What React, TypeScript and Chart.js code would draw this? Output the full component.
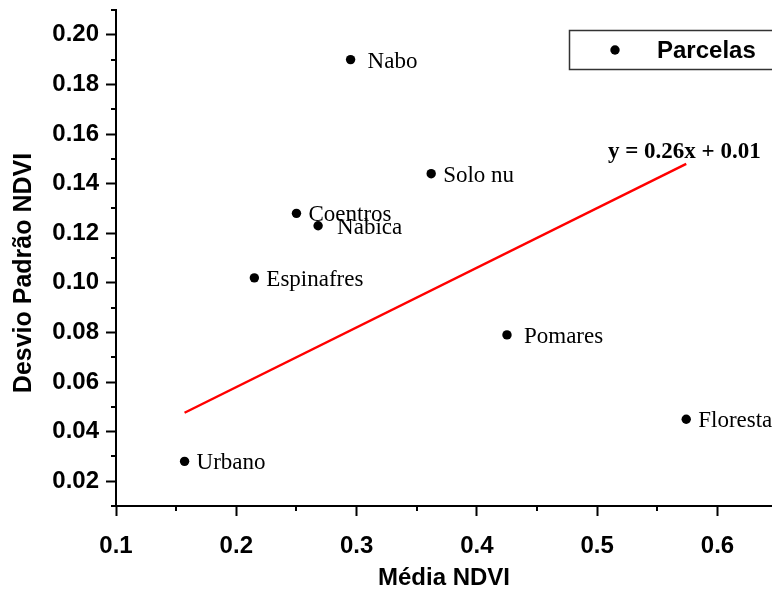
import { useEffect, useRef } from 'react';
import { Chart, registerables } from 'chart.js';

Chart.register(...registerables);

// Parcelas: mean NDVI vs. NDVI standard deviation
const parcelas = ['Urbano', 'Espinafres', 'Coentros', 'Nabica', 'Nabo', 'Solo nu', 'Pomares', 'Floresta'];
const mediaNdvi = [0.157, 0.215, 0.250, 0.268, 0.295, 0.362, 0.425, 0.574];
const desvioNdvi = [0.028, 0.102, 0.128, 0.123, 0.190, 0.144, 0.079, 0.045];

// Linear fit drawn across the sampled range
const ajusteX = [0.157, 0.574];
const ajusteY = [0.0476, 0.148];
const ajusteTexto = 'y = 0.26x + 0.01';

// Axis ranges
const xMin = 0.1;
const xMax = 0.6453;
const yMin = 0.01;
const yMax = 0.21;

// Horizontal gap between each dot and its name (px)
const labelGap = [12, 12, 12, 19, 17, 12, 17, 12];

const SANS = '"Liberation Sans", Arial, Helvetica, sans-serif';
const SERIF = '"Liberation Serif", "Times New Roman", serif';

const isMajorX = (v: number) => Math.round(v * 100) % 10 === 0;
const isMajorY = (v: number) => Math.round(v * 100) % 2 === 0;

export default function App() {
  const canvasRef = useRef<HTMLCanvasElement>(null);

  useEffect(() => {
    const canvas = canvasRef.current;
    if (!canvas) return;

    const annotations = {
      id: 'annotations',
      afterDraw(chart: any) {
        const { ctx } = chart;
        const x = chart.scales.x;
        const y = chart.scales.y;
        ctx.save();

        // minor tick marks
        ctx.strokeStyle = '#000';
        ctx.lineWidth = 2;
        for (let k = 1; k <= 21; k += 2) {
          const py = Math.round(y.getPixelForValue(k / 100));
          ctx.beginPath();
          ctx.moveTo(y.right - 5, py);
          ctx.lineTo(y.right, py);
          ctx.stroke();
        }
        for (let k = 15; k / 100 <= xMax; k += 10) {
          const px = Math.round(x.getPixelForValue(k / 100));
          ctx.beginPath();
          ctx.moveTo(px, x.top);
          ctx.lineTo(px, x.top + 5);
          ctx.stroke();
        }

        // vertical axis title
        ctx.fillStyle = '#000';
        ctx.save();
        ctx.translate(24, (y.top + y.bottom) / 2 + 15);
        ctx.rotate(-Math.PI / 2);
        ctx.font = `bold 25px ${SANS}`;
        ctx.textAlign = 'center';
        ctx.textBaseline = 'middle';
        ctx.fillText('Desvio Padrão NDVI', 0, 0);
        ctx.restore();

        // point names
        ctx.font = `23px ${SERIF}`;
        ctx.textAlign = 'left';
        ctx.textBaseline = 'alphabetic';
        parcelas.forEach((name, i) => {
          const px = x.getPixelForValue(mediaNdvi[i]) + labelGap[i];
          const py = y.getPixelForValue(desvioNdvi[i]) + 8;
          ctx.fillText(name, px, py);
        });

        // fit equation
        ctx.font = `bold 23px ${SERIF}`;
        ctx.fillText(ajusteTexto, 608, 158);

        // legend box
        ctx.strokeStyle = '#333';
        ctx.lineWidth = 1.5;
        ctx.strokeRect(569.5, 30.5, 220, 39);
        ctx.beginPath();
        ctx.arc(615, 50, 4.7, 0, Math.PI * 2);
        ctx.fill();
        ctx.font = `bold 24px ${SANS}`;
        ctx.textBaseline = 'middle';
        ctx.fillText('Parcelas', 657, 51);

        ctx.restore();
      },
    };

    const chart = new Chart(canvas, {
      type: 'scatter',
      data: {
        datasets: [
          {
            type: 'line',
            label: 'Ajuste',
            data: ajusteX.map((v, i) => ({ x: v, y: ajusteY[i] })),
            borderColor: '#ff0000',
            borderWidth: 2.5,
            pointRadius: 0,
            fill: false,
            order: 2,
          },
          {
            type: 'scatter',
            label: 'Parcelas',
            data: mediaNdvi.map((v, i) => ({ x: v, y: desvioNdvi[i] })),
            backgroundColor: '#000',
            borderColor: '#000',
            pointRadius: 4.7,
            pointBorderWidth: 0,
            order: 1,
          },
        ],
      },
      options: {
        animation: false,
        responsive: true,
        maintainAspectRatio: false,
        layout: { autoPadding: false, padding: { top: 10, left: 0, right: 0, bottom: 0 } },
        plugins: {
          legend: { display: false },
          tooltip: { enabled: false },
        },
        scales: {
          x: {
            type: 'linear',
            min: xMin,
            max: xMax,
            afterFit(s: any) {
              s.height = 84;
              s.paddingLeft = 0;
              s.paddingRight = 0;
            },
            ticks: {
              stepSize: 0.05,
              includeBounds: false,
              autoSkip: false,
              maxRotation: 0,
              padding: 16,
              color: '#000',
              font: { family: SANS, size: 24, weight: 'bold' },
              callback: (v: any) => (isMajorX(Number(v)) ? Number(v).toFixed(1) : ''),
            },
            grid: {
              drawOnChartArea: false,
              drawTicks: true,
              tickLength: 10,
              tickWidth: 2,
              tickColor: (c: any) => (c.tick && isMajorX(c.tick.value) ? '#000' : 'rgba(0,0,0,0)'),
            },
            border: { display: true, color: '#000', width: 2 },
            title: {
              display: true,
              text: 'Média NDVI',
              color: '#000',
              font: { family: SANS, size: 24, weight: 'bold' },
              padding: { top: 0, bottom: -3 },
            },
          },
          y: {
            type: 'linear',
            min: yMin,
            max: yMax,
            afterFit(s: any) {
              s.width = 116;
              s.paddingTop = 0;
              s.paddingBottom = 0;
            },
            ticks: {
              stepSize: 0.01,
              autoSkip: false,
              padding: 7,
              color: '#000',
              font: { family: SANS, size: 24, weight: 'bold' },
              callback: (v: any) => {
                const n = Number(v);
                const k = Math.round(n * 100);
                return isMajorY(n) && k > 1 && k < 21 ? n.toFixed(2) : '';
              },
            },
            grid: {
              drawOnChartArea: false,
              drawTicks: true,
              tickLength: 10,
              tickWidth: 2,
              tickColor: (c: any) => (c.tick && isMajorY(c.tick.value) ? '#000' : 'rgba(0,0,0,0)'),
            },
            border: { display: true, color: '#000', width: 2 },
            title: { display: false },
          },
        },
      },
      plugins: [annotations],
    });

    return () => chart.destroy();
  }, []);

  return (
    <div style={{ position: 'fixed', left: 0, top: 0, width: 772, height: 590, background: '#fff' }}>
      <canvas ref={canvasRef} />
    </div>
  );
}
